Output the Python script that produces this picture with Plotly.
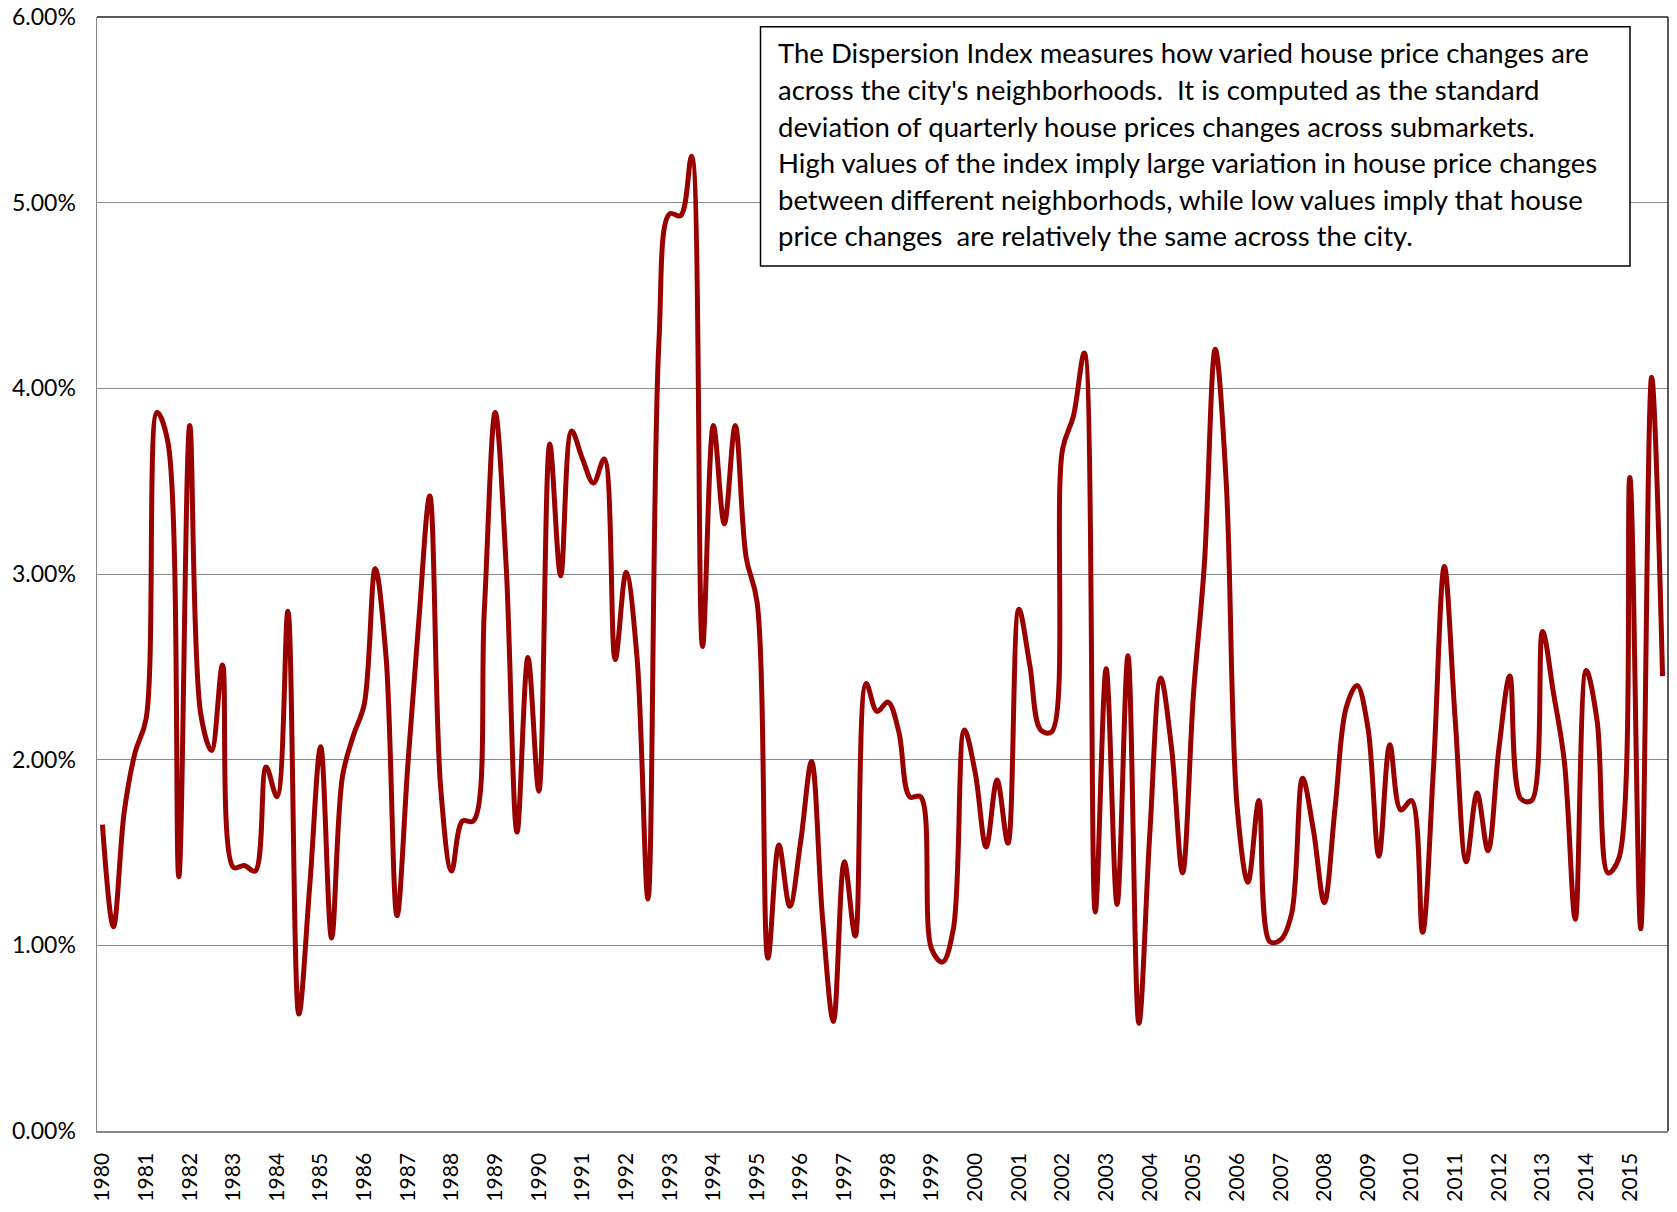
import plotly.graph_objects as go

# ---- data (quarterly, 1980Q1 .. 2015Q4), values in percent ----
years = list(range(1980, 2016))
quarters = [f"{y}Q{q}" for y in years for q in range(1, 5)]

dispersion_pct = [
    1.65, 1.10, 1.72, 2.04, 2.22, 3.87, 3.71, 1.37, 3.80, 2.25, 2.05, 2.51,  # 1980-1982
    1.42, 1.43, 1.40, 1.96, 1.80, 2.80, 0.63, 1.32, 2.07, 1.04, 1.91, 2.13,  # 1983-1985
    2.30, 3.03, 2.55, 1.16, 1.98, 2.75, 3.42, 1.85, 1.40, 1.67, 1.67, 2.80,  # 1986-1988
    3.87, 3.05, 1.61, 2.55, 1.83, 3.70, 2.99, 3.77, 3.62, 3.49, 3.62, 2.54,  # 1989-1991
    3.01, 2.55, 1.25, 4.24, 4.94, 4.93, 5.25, 2.61, 3.80, 3.27, 3.80, 3.09,  # 1992-1994
    2.85, 0.93, 1.54, 1.21, 1.56, 1.99, 1.15, 0.59, 1.45, 1.05, 2.41, 2.26,  # 1995-1997
    2.31, 2.15, 1.80, 1.80, 0.98, 0.91, 1.09, 2.16, 1.93, 1.53, 1.89, 1.55,  # 1998-2000
    2.81, 2.51, 2.16, 2.15, 3.67, 3.85, 4.19, 1.18, 2.49, 1.22, 2.56, 0.58,  # 2001-2003
    1.60, 2.44, 2.06, 1.39, 2.35, 3.05, 4.21, 3.50, 1.75, 1.34, 1.78, 1.02,  # 2004-2006
    1.03, 1.17, 1.90, 1.62, 1.23, 1.75, 2.28, 2.40, 2.17, 1.48, 2.08, 1.73,  # 2007-2009
    1.78, 1.07, 1.95, 3.04, 2.21, 1.45, 1.82, 1.51, 2.06, 2.45, 1.79, 1.78,  # 2010-2012
    2.69, 2.36, 1.99, 1.14, 2.48, 2.21, 1.39, 1.47, 3.52, 1.09, 4.06, 2.45,  # 2013-2015
]

tick_labels = [str(y) for y in years]
y_ticks = [0.0, 0.01, 0.02, 0.03, 0.04, 0.05, 0.06]

note_lines = [
    "The Dispersion Index measures how varied house price changes are",
    "across the city's neighborhoods.  It is computed as the standard",
    "deviation of quarterly house prices changes across submarkets.",
    "High values of the index imply large variation in house price changes",
    "between different neighborhods, while low values imply that house",
    "price changes  are relatively the same across the city.",
]

# ---- figure (page body margin removed via post_script) ----
W, H = 1677, 1212
ML, MT = 97, 17
MR = W - 1668
MB = H - 1131
PW, PH = W - ML - MR, H - MT - MB

x_idx = list(range(len(quarters)))
y_vals = [v / 100.0 for v in dispersion_pct]

fig = go.Figure()
fig.add_trace(go.Scatter(
    x=x_idx, y=y_vals, mode="lines",
    line=dict(color="#990000", width=5, shape="spline", smoothing=1.0),
    hovertext=quarters, showlegend=False,
))

FONT = "Lato, 'Open Sans', sans-serif"

fig.update_layout(
    template="none",
    width=W, height=H,
    margin=dict(l=ML, r=MR, t=MT, b=MB, pad=0, autoexpand=False),
    paper_bgcolor="white", plot_bgcolor="white",
    font=dict(family=FONT, color="black"),
    xaxis=dict(
        automargin=False,
        range=[-0.5, len(quarters) - 0.5],
        tickmode="array",
        tickvals=[i * 4 for i in range(len(years))],
        ticktext=tick_labels,
        tickangle=-90,
        tickfont=dict(family=FONT, size=21, color="black"),
        showgrid=False, zeroline=False,
        showline=True, linecolor="#868686", linewidth=1.5,
        ticks="", ticklabelstandoff=12,
        ticklabeloverflow="allow",
        fixedrange=True,
    ),
    yaxis=dict(
        automargin=False,
        range=[0, 0.06],
        tickmode="array", tickvals=y_ticks,
        tickformat=".2%",
        tickfont=dict(family=FONT, size=23, color="black"),
        showgrid=True, gridcolor="#8a8a8a", gridwidth=1,
        zeroline=False,
        showline=True, linecolor="#868686", linewidth=1.5,
        ticks="", ticklabelstandoff=15,
        ticklabeloverflow="allow",
        fixedrange=True,
    ),
)

# plot-area border (top and right)
fig.add_shape(type="line", xref="paper", yref="paper", x0=0, x1=1, y0=1, y1=1,
              line=dict(color="#222222", width=1.5))
fig.add_shape(type="line", xref="paper", yref="paper", x0=1, x1=1, y0=0, y1=1,
              line=dict(color="#222222", width=1.5))

# note box (positions given in window pixels)
def px_to_paper_x(px):
    return (px - ML) / PW

def px_to_paper_y(py):
    return 1 - (py - MT) / PH

box_l, box_r, box_t, box_b = 760.5, 1630, 26.7, 266
fig.add_shape(type="rect", xref="paper", yref="paper",
              x0=px_to_paper_x(box_l), x1=px_to_paper_x(box_r),
              y0=px_to_paper_y(box_b), y1=px_to_paper_y(box_t),
              line=dict(color="black", width=1.5), fillcolor="white", layer="above")

line_y0, line_dy = 53.0, 36.5
for k, txt in enumerate(note_lines):
    fig.add_annotation(
        xref="paper", yref="paper",
        x=px_to_paper_x(776), y=px_to_paper_y(line_y0 + k * line_dy),
        xanchor="left", yanchor="middle",
        text=txt, showarrow=False,
        font=dict(family=FONT, size=27.5, color="black"),
    )

fig.write_html(
    "out.html",
    config={"displayModeBar": False, "staticPlot": True},
    post_script="document.body.style.margin='0px';document.body.style.overflow='hidden';",
)
